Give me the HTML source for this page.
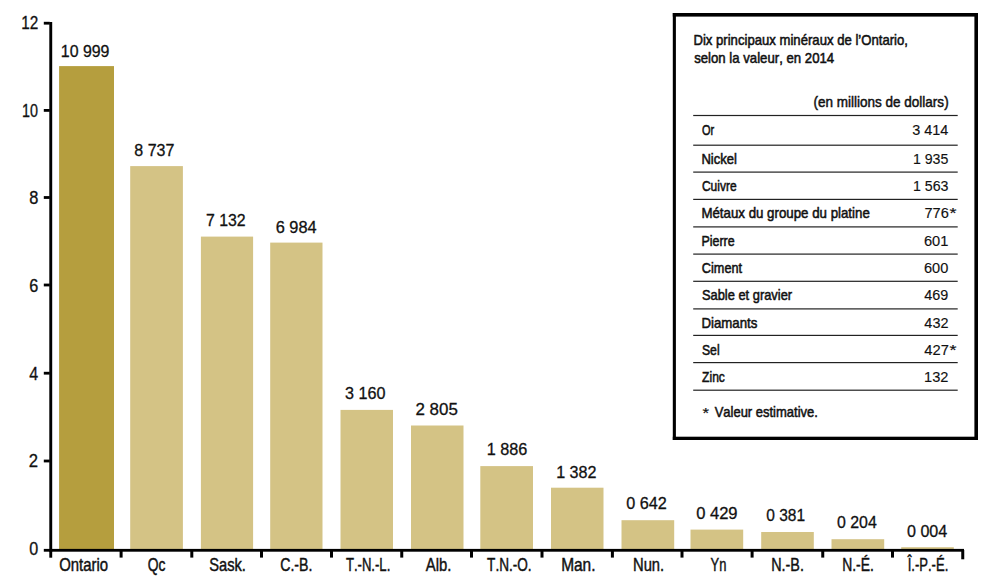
<!DOCTYPE html>
<html><head><meta charset="utf-8"><title>chart</title>
<style>
html,body{margin:0;padding:0;background:#fff;}
body{width:1000px;height:588px;overflow:hidden;}
svg{display:block;}
text{font-family:"Liberation Sans",sans-serif;font-kerning:none;}
</style></head><body>
<svg width="1000" height="588" viewBox="0 0 1000 588">
<rect x="0" y="0" width="1000" height="588" fill="#ffffff"/>
<rect x="59.10" y="66.10" width="54.90" height="483.90" fill="#b59e3e"/>
<rect x="130.20" y="166.10" width="52.70" height="383.90" fill="#d4c385"/>
<rect x="200.90" y="236.60" width="52.20" height="313.40" fill="#d4c385"/>
<rect x="270.20" y="242.60" width="52.30" height="307.40" fill="#d4c385"/>
<rect x="340.50" y="409.90" width="52.50" height="140.10" fill="#d4c385"/>
<rect x="411.00" y="425.50" width="52.50" height="124.50" fill="#d4c385"/>
<rect x="480.30" y="466.10" width="52.70" height="83.90" fill="#d4c385"/>
<rect x="551.00" y="487.70" width="52.50" height="62.30" fill="#d4c385"/>
<rect x="621.50" y="520.20" width="52.70" height="29.80" fill="#d4c385"/>
<rect x="690.50" y="529.60" width="52.70" height="20.40" fill="#d4c385"/>
<rect x="761.20" y="532.00" width="52.60" height="18.00" fill="#d4c385"/>
<rect x="831.50" y="539.20" width="52.70" height="10.80" fill="#d4c385"/>
<rect x="901.20" y="547.20" width="52.60" height="2.80" fill="#d4c385"/>
<rect x="49.30" y="22.00" width="2.90" height="530.00" fill="#000"/>
<rect x="43.80" y="548.90" width="920.20" height="2.80" fill="#000"/>
<rect x="43.80" y="21.80" width="6.00" height="2.80" fill="#000"/>
<rect x="43.80" y="109.00" width="6.00" height="2.80" fill="#000"/>
<rect x="43.80" y="196.10" width="6.00" height="2.80" fill="#000"/>
<rect x="43.80" y="283.60" width="6.00" height="2.80" fill="#000"/>
<rect x="43.80" y="371.80" width="6.00" height="2.80" fill="#000"/>
<rect x="43.80" y="459.60" width="6.00" height="2.80" fill="#000"/>
<rect x="119.60" y="550.00" width="3.00" height="7.60" fill="#000"/>
<rect x="190.30" y="550.00" width="3.00" height="7.60" fill="#000"/>
<rect x="260.00" y="550.00" width="3.00" height="7.60" fill="#000"/>
<rect x="330.00" y="550.00" width="3.00" height="7.60" fill="#000"/>
<rect x="400.25" y="550.00" width="3.00" height="7.60" fill="#000"/>
<rect x="470.00" y="550.00" width="3.00" height="7.60" fill="#000"/>
<rect x="540.50" y="550.00" width="3.00" height="7.60" fill="#000"/>
<rect x="610.90" y="550.00" width="3.00" height="7.60" fill="#000"/>
<rect x="680.50" y="550.00" width="3.00" height="7.60" fill="#000"/>
<rect x="750.60" y="550.00" width="3.00" height="7.60" fill="#000"/>
<rect x="821.25" y="550.00" width="3.00" height="7.60" fill="#000"/>
<rect x="891.00" y="550.00" width="3.00" height="7.60" fill="#000"/>
<rect x="961.25" y="550.00" width="3.00" height="9.30" fill="#000"/>
<rect x="49.30" y="550.00" width="2.90" height="7.70" fill="#000"/>
<text x="21.13" y="29.30" font-size="17.6" textLength="17.04" lengthAdjust="spacingAndGlyphs" fill="#111" stroke="#111" stroke-width="0.3">12</text>
<text x="22.01" y="116.90" font-size="17.6" textLength="15.95" lengthAdjust="spacingAndGlyphs" fill="#111" stroke="#111" stroke-width="0.3">10</text>
<text x="29.29" y="204.40" font-size="17.6" textLength="9.13" lengthAdjust="spacingAndGlyphs" fill="#111" stroke="#111" stroke-width="0.3">8</text>
<text x="29.37" y="292.00" font-size="17.6" textLength="9.04" lengthAdjust="spacingAndGlyphs" fill="#111" stroke="#111" stroke-width="0.3">6</text>
<text x="29.13" y="379.50" font-size="17.6" textLength="8.94" lengthAdjust="spacingAndGlyphs" fill="#111" stroke="#111" stroke-width="0.3">4</text>
<text x="28.86" y="467.10" font-size="17.6" textLength="9.28" lengthAdjust="spacingAndGlyphs" fill="#111" stroke="#111" stroke-width="0.3">2</text>
<text x="29.37" y="554.60" font-size="17.6" textLength="8.96" lengthAdjust="spacingAndGlyphs" fill="#111" stroke="#111" stroke-width="0.3">0</text>
<text x="59.19" y="571.20" font-size="17.9" textLength="48.93" lengthAdjust="spacingAndGlyphs" fill="#111" stroke="#111" stroke-width="0.45">Ontario</text>
<text x="147.74" y="571.20" font-size="17.9" textLength="17.72" lengthAdjust="spacingAndGlyphs" fill="#111" stroke="#111" stroke-width="0.45">Qc</text>
<text x="209.23" y="571.20" font-size="17.9" textLength="36.71" lengthAdjust="spacingAndGlyphs" fill="#111" stroke="#111" stroke-width="0.45">Sask.</text>
<text x="280.18" y="571.20" font-size="17.9" textLength="32.21" lengthAdjust="spacingAndGlyphs" fill="#111" stroke="#111" stroke-width="0.45">C.-B.</text>
<text x="345.91" y="571.20" font-size="17.9" textLength="44.39" lengthAdjust="spacingAndGlyphs" fill="#111" stroke="#111" stroke-width="0.45">T.-N.-L.</text>
<text x="425.87" y="571.20" font-size="17.9" textLength="25.58" lengthAdjust="spacingAndGlyphs" fill="#111" stroke="#111" stroke-width="0.45">Alb.</text>
<text x="487.09" y="571.20" font-size="17.9" textLength="44.55" lengthAdjust="spacingAndGlyphs" fill="#111" stroke="#111" stroke-width="0.45">T.N.-O.</text>
<text x="561.13" y="571.20" font-size="17.9" textLength="34.38" lengthAdjust="spacingAndGlyphs" fill="#111" stroke="#111" stroke-width="0.45">Man.</text>
<text x="632.99" y="571.20" font-size="17.9" textLength="31.16" lengthAdjust="spacingAndGlyphs" fill="#111" stroke="#111" stroke-width="0.45">Nun.</text>
<text x="710.62" y="571.20" font-size="17.9" textLength="15.82" lengthAdjust="spacingAndGlyphs" fill="#111" stroke="#111" stroke-width="0.45">Yn</text>
<text x="771.22" y="571.20" font-size="17.9" textLength="32.69" lengthAdjust="spacingAndGlyphs" fill="#111" stroke="#111" stroke-width="0.45">N.-B.</text>
<text x="842.26" y="571.20" font-size="17.9" textLength="31.61" lengthAdjust="spacingAndGlyphs" fill="#111" stroke="#111" stroke-width="0.45">N.-É.</text>
<text x="907.69" y="571.20" font-size="17.9" textLength="40.60" lengthAdjust="spacingAndGlyphs" fill="#111" stroke="#111" stroke-width="0.45">Î.-P.-É.</text>
<text x="60.79" y="56.60" font-size="17.1" textLength="48.67" lengthAdjust="spacingAndGlyphs" fill="#111" stroke="#111" stroke-width="0.3">10 999</text>
<text x="134.30" y="156.10" font-size="17.1" textLength="40.10" lengthAdjust="spacingAndGlyphs" fill="#111" stroke="#111" stroke-width="0.3">8 737</text>
<text x="205.99" y="225.50" font-size="17.1" textLength="39.71" lengthAdjust="spacingAndGlyphs" fill="#111" stroke="#111" stroke-width="0.3">7 132</text>
<text x="275.67" y="232.60" font-size="17.1" textLength="40.91" lengthAdjust="spacingAndGlyphs" fill="#111" stroke="#111" stroke-width="0.3">6 984</text>
<text x="345.08" y="399.40" font-size="17.1" textLength="40.45" lengthAdjust="spacingAndGlyphs" fill="#111" stroke="#111" stroke-width="0.3">3 160</text>
<text x="415.45" y="415.30" font-size="17.1" textLength="42.36" lengthAdjust="spacingAndGlyphs" fill="#111" stroke="#111" stroke-width="0.3">2 805</text>
<text x="486.66" y="455.20" font-size="17.1" textLength="40.65" lengthAdjust="spacingAndGlyphs" fill="#111" stroke="#111" stroke-width="0.3">1 886</text>
<text x="556.17" y="477.60" font-size="17.1" textLength="40.34" lengthAdjust="spacingAndGlyphs" fill="#111" stroke="#111" stroke-width="0.3">1 382</text>
<text x="626.17" y="509.30" font-size="17.1" textLength="40.55" lengthAdjust="spacingAndGlyphs" fill="#111" stroke="#111" stroke-width="0.3">0 642</text>
<text x="696.15" y="519.10" font-size="17.1" textLength="41.43" lengthAdjust="spacingAndGlyphs" fill="#111" stroke="#111" stroke-width="0.3">0 429</text>
<text x="766.19" y="520.80" font-size="17.1" textLength="38.87" lengthAdjust="spacingAndGlyphs" fill="#111" stroke="#111" stroke-width="0.3">0 381</text>
<text x="836.98" y="528.30" font-size="17.1" textLength="39.79" lengthAdjust="spacingAndGlyphs" fill="#111" stroke="#111" stroke-width="0.3">0 204</text>
<text x="906.97" y="537.00" font-size="17.1" textLength="40.30" lengthAdjust="spacingAndGlyphs" fill="#111" stroke="#111" stroke-width="0.3">0 004</text>
<rect x="672.80" y="13.00" width="305.20" height="427.00" fill="#fff"/>
<rect x="672.80" y="13.00" width="305.20" height="3.60" fill="#000"/>
<rect x="974.40" y="13.00" width="3.60" height="427.00" fill="#000"/>
<rect x="672.80" y="13.00" width="3.10" height="427.00" fill="#000"/>
<rect x="672.80" y="436.70" width="305.20" height="3.30" fill="#000"/>
<text x="693.42" y="45.00" font-size="15" textLength="214.56" lengthAdjust="spacingAndGlyphs" fill="#111" stroke="#111" stroke-width="0.55">Dix principaux minéraux de l’Ontario,</text>
<text x="694.13" y="63.20" font-size="15" textLength="140.05" lengthAdjust="spacingAndGlyphs" fill="#111" stroke="#111" stroke-width="0.55">selon la valeur, en 2014</text>
<text x="813.46" y="107.00" font-size="15" textLength="135.18" lengthAdjust="spacingAndGlyphs" fill="#111" stroke="#111" stroke-width="0.5">(en millions de dollars)</text>
<rect x="693.20" y="114.90" width="264.50" height="1.20" fill="#222"/>
<rect x="693.20" y="144.60" width="264.50" height="1.20" fill="#222"/>
<rect x="693.20" y="171.50" width="264.50" height="1.20" fill="#222"/>
<rect x="693.20" y="198.80" width="264.50" height="1.20" fill="#222"/>
<rect x="693.20" y="226.30" width="264.50" height="1.20" fill="#222"/>
<rect x="693.20" y="253.50" width="264.50" height="1.20" fill="#222"/>
<rect x="693.20" y="280.70" width="264.50" height="1.20" fill="#222"/>
<rect x="693.20" y="308.30" width="264.50" height="1.20" fill="#222"/>
<rect x="693.20" y="334.80" width="264.50" height="1.20" fill="#222"/>
<rect x="693.20" y="362.00" width="264.50" height="1.20" fill="#222"/>
<rect x="693.20" y="389.60" width="264.50" height="1.20" fill="#222"/>
<text x="701.98" y="134.90" font-size="15" textLength="12.20" lengthAdjust="spacingAndGlyphs" fill="#111" stroke="#111" stroke-width="0.55">Or</text>
<text x="912.15" y="135.10" font-size="15.4" textLength="36.07" lengthAdjust="spacingAndGlyphs" fill="#111" stroke="#111" stroke-width="0.15">3 414</text>
<text x="701.43" y="164.10" font-size="15" textLength="35.54" lengthAdjust="spacingAndGlyphs" fill="#111" stroke="#111" stroke-width="0.55">Nickel</text>
<text x="912.92" y="164.30" font-size="15.4" textLength="35.48" lengthAdjust="spacingAndGlyphs" fill="#111" stroke="#111" stroke-width="0.15">1 935</text>
<text x="701.89" y="191.00" font-size="15" textLength="34.74" lengthAdjust="spacingAndGlyphs" fill="#111" stroke="#111" stroke-width="0.55">Cuivre</text>
<text x="912.92" y="191.20" font-size="15.4" textLength="35.50" lengthAdjust="spacingAndGlyphs" fill="#111" stroke="#111" stroke-width="0.15">1 563</text>
<text x="701.41" y="217.80" font-size="15" textLength="168.38" lengthAdjust="spacingAndGlyphs" fill="#111" stroke="#111" stroke-width="0.55">Métaux du groupe du platine</text>
<text x="924.45" y="218.00" font-size="15.4" textLength="24.39" lengthAdjust="spacingAndGlyphs" fill="#111" stroke="#111" stroke-width="0.15">776</text>
<text x="949.61" y="218.40" font-size="15.5" textLength="6.97" lengthAdjust="spacingAndGlyphs" fill="#111" stroke="#111" stroke-width="0.2">*</text>
<text x="701.48" y="245.60" font-size="15" textLength="33.17" lengthAdjust="spacingAndGlyphs" fill="#111" stroke="#111" stroke-width="0.55">Pierre</text>
<text x="923.96" y="245.80" font-size="15.4" textLength="24.46" lengthAdjust="spacingAndGlyphs" fill="#111" stroke="#111" stroke-width="0.15">601</text>
<text x="701.86" y="273.10" font-size="15" textLength="40.14" lengthAdjust="spacingAndGlyphs" fill="#111" stroke="#111" stroke-width="0.55">Ciment</text>
<text x="923.96" y="273.30" font-size="15.4" textLength="24.31" lengthAdjust="spacingAndGlyphs" fill="#111" stroke="#111" stroke-width="0.15">600</text>
<text x="701.92" y="300.20" font-size="15" textLength="90.20" lengthAdjust="spacingAndGlyphs" fill="#111" stroke="#111" stroke-width="0.55">Sable et gravier</text>
<text x="924.37" y="300.40" font-size="15.4" textLength="24.01" lengthAdjust="spacingAndGlyphs" fill="#111" stroke="#111" stroke-width="0.15">469</text>
<text x="701.41" y="328.10" font-size="15" textLength="55.97" lengthAdjust="spacingAndGlyphs" fill="#111" stroke="#111" stroke-width="0.55">Diamants</text>
<text x="924.37" y="328.30" font-size="15.4" textLength="24.06" lengthAdjust="spacingAndGlyphs" fill="#111" stroke="#111" stroke-width="0.15">432</text>
<text x="701.94" y="354.70" font-size="15" textLength="17.67" lengthAdjust="spacingAndGlyphs" fill="#111" stroke="#111" stroke-width="0.55">Sel</text>
<text x="924.36" y="354.90" font-size="15.4" textLength="24.58" lengthAdjust="spacingAndGlyphs" fill="#111" stroke="#111" stroke-width="0.15">427</text>
<text x="949.61" y="355.30" font-size="15.5" textLength="6.97" lengthAdjust="spacingAndGlyphs" fill="#111" stroke="#111" stroke-width="0.2">*</text>
<text x="702.12" y="381.70" font-size="15" textLength="22.80" lengthAdjust="spacingAndGlyphs" fill="#111" stroke="#111" stroke-width="0.55">Zinc</text>
<text x="924.09" y="381.90" font-size="15.4" textLength="24.35" lengthAdjust="spacingAndGlyphs" fill="#111" stroke="#111" stroke-width="0.15">132</text>
<text x="702.63" y="417.60" font-size="15.5" textLength="6.53" lengthAdjust="spacingAndGlyphs" fill="#111" stroke="#111" stroke-width="0.2">*</text>
<text x="714.64" y="417.00" font-size="15" textLength="103.24" lengthAdjust="spacingAndGlyphs" fill="#111" stroke="#111" stroke-width="0.55">Valeur estimative.</text>
</svg>
</body></html>
